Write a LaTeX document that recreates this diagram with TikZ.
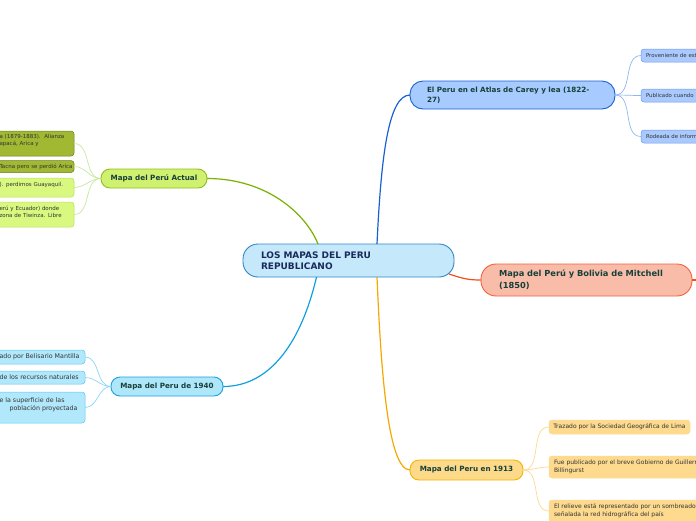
\documentclass[tikz,border=0pt]{standalone}
\usepackage{fontspec}
\setmainfont{DejaVu Sans}
\definecolor{roottxt}{HTML}{1A2A5C}
\definecolor{lvtxt}{HTML}{17403A}
\definecolor{chtxt}{HTML}{333333}
\definecolor{rootfill}{HTML}{C5E9FB}
\definecolor{rootline}{HTML}{2F86C8}
\definecolor{atlasfill}{HTML}{A8CBFF}
\definecolor{atlasline}{HTML}{1A5FD0}
\definecolor{atlassub}{HTML}{A9C9FF}
\definecolor{atlassubline}{HTML}{6C9BE8}
\definecolor{atlascon}{HTML}{92B6F0}
\definecolor{mitfill}{HTML}{F8BCA8}
\definecolor{mitline}{HTML}{F0623E}
\definecolor{mitcon}{HTML}{F0501E}
\definecolor{yfill}{HTML}{FDD98A}
\definecolor{yline}{HTML}{F5B400}
\definecolor{ycon}{HTML}{F5A800}
\definecolor{ysub}{HTML}{FDDA8E}
\definecolor{ysubcon}{HTML}{FCD890}
\definecolor{gfill}{HTML}{D0F070}
\definecolor{gline}{HTML}{8CC01C}
\definecolor{gcon}{HTML}{7AB000}
\definecolor{olive}{HTML}{A0B832}
\definecolor{oliveline}{HTML}{6B7D1C}
\definecolor{lgreen}{HTML}{D8F880}
\definecolor{lgreenline}{HTML}{B8E060}
\definecolor{gsubcon}{HTML}{C8E6A0}
\definecolor{cfill}{HTML}{AEE6FA}
\definecolor{cline}{HTML}{1CA0E0}
\definecolor{ccon}{HTML}{10A0E0}
\definecolor{csub}{HTML}{B2E8FC}
\definecolor{csubline}{HTML}{5CC4F0}
\definecolor{csubcon}{HTML}{8CD4F4}
\begin{document}
\begin{tikzpicture}[x=1pt,y=-1pt,
  every node/.style={inner sep=0pt, outer sep=0pt},
  rootbox/.style={draw=rootline, fill=rootfill, line width=0.9pt, rounded corners=15pt,
    text=roottxt, align=left, font=\fontsize{9}{11}\selectfont\bfseries},
  lvbox/.style={line width=0.9pt, text=lvtxt, font=\fontsize{7.2}{10}\selectfont\bfseries},
  subbox/.style={line width=0.5pt, rounded corners=3pt, text=chtxt,
    font=\fontsize{6}{7.6}\selectfont},
  subtext/.style={text=chtxt, align=left, anchor=west},
  maincon/.style={line width=1.2pt},
  subcon/.style={line width=0.7pt}
]
\useasboundingbox (0,0) rectangle (696,520);
\clip (0,0) rectangle (696,520);

% ---------- main nodes
\node[rootbox, minimum width=211pt, minimum height=33pt, text width=175pt] (root)
  at (348.5,260.5) {LOS MAPAS DEL PERU\\REPUBLICANO};
\node[lvbox, draw=atlasline, fill=atlasfill, rounded corners=13pt, minimum width=205pt,
  minimum height=28pt, text width=171pt, align=left] (atlas)
  at (512.5,95) {El Peru en el Atlas de Carey y lea (1822-\\27)};
\node[lvbox, draw=mitline, fill=mitfill, rounded corners=15pt, minimum width=211pt,
  minimum height=32pt, text width=175pt, align=left,
  font=\fontsize{8.3}{12}\selectfont\bfseries] (mitchell)
  at (586.5,280) {Mapa del Perú y Bolivia de Mitchell\\(1850)};
\node[lvbox, draw=yline, fill=yfill, rounded corners=9pt, minimum width=113pt,
  minimum height=20pt] (y1913) at (466.5,470) {Mapa del Peru en 1913};
\node[lvbox, draw=gline, fill=gfill, rounded corners=9pt, minimum width=106pt,
  minimum height=19pt] (actual) at (154,178.5) {Mapa del Perú Actual};
\node[lvbox, draw=cline, fill=cfill, rounded corners=9pt, minimum width=112pt,
  minimum height=19pt] (y1940) at (167,386.5) {Mapa del Peru de 1940};

% ---------- Atlas children
\begin{scope}[every node/.append style={subbox, draw=atlassubline, fill=atlassub,
  anchor=west, minimum width=80pt, minimum height=13pt, text width=70pt, inner xsep=5pt,
  align=left, font=\fontsize{5.4}{7}\selectfont}]
\node (a1) at (641,55.5) {Proveniente de est};
\node (a2) at (641,95.5) {Publicado cuando};
\node (a3) at (641,136.5) {Rodeada de inform};
\end{scope}

% ---------- 1913 children
\begin{scope}[every node/.append style={subbox, draw=ysub, fill=ysub, anchor=west}]
\node[minimum width=141pt, minimum height=14pt] (t1) at (549,427)
  {Trazado por la Sociedad Geográfica de Lima};
\node[minimum width=190pt, minimum height=22pt, text width=180pt, inner xsep=5pt,
  align=left] (t2) at (549,467)
  {Fue publicado por el breve Gobierno de Guillermo\\Billingurst};
\node[minimum width=190pt, minimum height=22pt, text width=180pt, inner xsep=5pt,
  align=left] (t3) at (549,511)
  {El relieve está representado por un sombreado\\señalada la red hidrográfica del país};
\end{scope}

% ---------- Actual children
\begin{scope}[every node/.append style={subbox, anchor=east, minimum width=100pt}]
\node[draw=oliveline, fill=olive, minimum height=25pt] (c1) at (74,143.5) {};
\node[draw=oliveline, fill=olive, minimum height=12pt] (c2) at (74,166.5) {};
\node[draw=lgreenline, fill=lgreen, minimum height=19pt] (c3) at (74,187.5) {};
\node[draw=lgreenline, fill=lgreen, minimum height=25pt] (c4) at (74,214.5) {};
\end{scope}
\begin{scope}[every node/.append style={subtext, text width=80pt, font=\fontsize{5.5}{6.4}\selectfont}]
\node (c1t) at (-0.5,140.3) {a (1879-1883).\ \ Alianza\\apacá, Arica y};
\node (c2t) at (-0.5,166.5) {Tacna pero se perdió Arica};
\node (c3t) at (-0.5,185) {). perdimos Guayaquil.};
\node (c4t) at (-0.5,212) {erú y Ecuador) donde\\zona de Tiwinza. Libre};
\end{scope}

% ---------- 1940 children
\begin{scope}[every node/.append style={subbox, anchor=east, minimum width=100pt,
  draw=csubline, fill=csub}]
\node[minimum height=14pt] (b1) at (85,357) {};
\node[minimum height=13pt] (b2) at (85,377.5) {};
\node[minimum height=31pt] (b3) at (85,407.5) {};
\end{scope}
\begin{scope}[every node/.append style={subtext, font=\fontsize{6.3}{7.2}\selectfont}]
\node (b1t) at (-0.5,357) {ado por Belisario Mantilla};
\node (b2t) at (-0.5,377.5) {de los recursos naturales};
\node (b3t) at (-0.5,401) {e la superficie de las};
\node (b3u) at (9.5,408.2) {población proyectada};
\end{scope}

% ---------- main connectors
\draw[maincon, draw=atlasline] ([xshift=28.5pt]root.north) .. controls +(4,-85) and +(-22,0) .. (atlas.west);
\draw[maincon, draw=ycon] ([xshift=28.5pt]root.south) .. controls +(4,95) and +(-22,0) .. (y1913.west);
\draw[maincon, draw=gcon] (actual.east) .. controls +(60,0) and +(-12,-30) .. ([xshift=-30.5pt]root.north);
\draw[maincon, draw=ccon] (y1940.east) .. controls +(50,0) and +(-14,60) .. ([xshift=-32pt]root.south);
\draw[maincon, draw=mitcon] ([xshift=-5pt,yshift=3pt]root.south east) .. controls +(15,5) and +(-12,0) .. (mitchell.west);
\coordinate (mout) at (706,280);
\draw[maincon, draw=mitcon] (mitchell.east) -- (mout);

% ---------- sub connectors
\foreach \c in {a1,a2,a3}
  \draw[subcon, draw=atlascon] (atlas.east) to[out=0,in=180] (\c.west);
\foreach \c in {t1,t2,t3}
  \draw[subcon, draw=ysubcon] (y1913.east) to[out=0,in=180] (\c.west);
\foreach \c in {c1,c2,c3,c4}
  \draw[subcon, draw=gsubcon] (actual.west) to[out=180,in=0] (\c.east);
\foreach \c in {b1,b2,b3}
  \draw[subcon, draw=csubcon] (y1940.west) to[out=180,in=0] (\c.east);
\end{tikzpicture}
\end{document}
